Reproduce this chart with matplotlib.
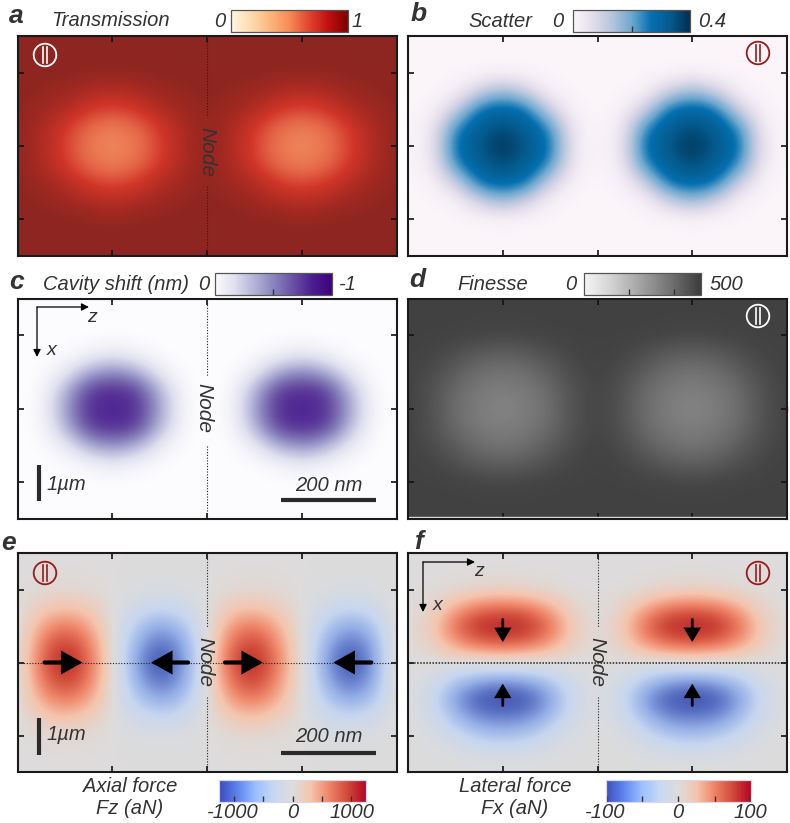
#!/usr/bin/env python3
"""Optical force maps of a particle in a cavity: six panels read off the figure."""

import matplotlib
matplotlib.use('Agg')
import matplotlib.pyplot as plt
from matplotlib.colors import LinearSegmentedColormap, Normalize
from matplotlib.cm import ScalarMappable
from matplotlib.patches import Circle

plt.rcParams['font.family'] = ['Liberation Sans', 'DejaVu Sans']

# grid points: z every 50 nm from -400 to 400, x every 0.5 um from -3 to 3
transmission = [
    [97, 97, 97, 97, 97, 97, 97, 97, 97, 97, 97, 97, 97, 97, 97, 97, 97],
    [97, 97, 97, 97, 97, 97, 97, 97, 97, 97, 97, 97, 97, 97, 97, 97, 97],
    [97, 97, 97, 96, 95, 96, 97, 97, 97, 97, 97, 96, 95, 96, 97, 97, 97],
    [97, 95, 92, 86, 84, 86, 92, 95, 97, 95, 92, 86, 84, 86, 92, 95, 97],
    [97, 91, 85, 75, 70, 75, 85, 91, 96, 91, 85, 75, 70, 75, 85, 91, 97],
    [96, 87, 74, 60, 53, 60, 74, 87, 96, 87, 74, 60, 53, 60, 74, 87, 96],
    [96, 86, 72, 55, 50, 55, 72, 86, 96, 86, 72, 55, 50, 55, 72, 86, 96],
    [96, 87, 74, 60, 53, 60, 74, 87, 96, 87, 74, 60, 53, 60, 74, 87, 96],
    [97, 91, 84, 74, 69, 74, 84, 91, 96, 91, 84, 74, 69, 74, 84, 91, 97],
    [97, 95, 91, 85, 82, 85, 91, 95, 97, 95, 91, 85, 82, 85, 91, 95, 97],
    [97, 97, 97, 96, 94, 96, 97, 97, 97, 97, 97, 96, 94, 96, 97, 97, 97],
    [97, 97, 97, 97, 96, 97, 97, 97, 97, 97, 97, 97, 96, 97, 97, 97, 97],
    [97, 97, 97, 97, 97, 97, 97, 97, 97, 97, 97, 97, 97, 97, 97, 97, 97],
]
scatter = [
    [0, 0, 0, 0, 0, 0, 0, 0, 0, 0, 0, 0, 0, 0, 0, 0, 0],
    [0, 0, 0, 0, 0, 0, 0, 0, 0, 0, 0, 0, 0, 0, 0, 0, 0],
    [0, 0, 0, 0, 2, 0, 0, 0, 0, 0, 0, 0, 2, 0, 0, 0, 0],
    [0, 0, 2, 25, 42, 25, 2, 0, 0, 0, 2, 25, 42, 25, 2, 0, 0],
    [0, 1, 25, 68, 74, 68, 25, 1, 0, 1, 25, 68, 74, 68, 25, 1, 0],
    [0, 6, 60, 80, 90, 80, 60, 6, 0, 6, 60, 80, 90, 80, 60, 6, 0],
    [0, 8, 70, 84, 100, 84, 70, 8, 0, 8, 70, 84, 100, 84, 70, 8, 0],
    [0, 6, 60, 80, 90, 80, 60, 6, 0, 6, 60, 80, 90, 80, 60, 6, 0],
    [0, 1, 25, 68, 74, 68, 25, 1, 0, 1, 25, 68, 74, 68, 25, 1, 0],
    [0, 0, 2, 25, 42, 25, 2, 0, 0, 0, 2, 25, 42, 25, 2, 0, 0],
    [0, 0, 0, 0, 2, 0, 0, 0, 0, 0, 0, 0, 2, 0, 0, 0, 0],
    [0, 0, 0, 0, 0, 0, 0, 0, 0, 0, 0, 0, 0, 0, 0, 0, 0],
    [0, 0, 0, 0, 0, 0, 0, 0, 0, 0, 0, 0, 0, 0, 0, 0, 0],
]
cavity_shift = [
    [0, 0, 0, 0, 0, 0, 0, 0, 0, 0, 0, 0, 0, 0, 0, 0, 0],
    [0, 0, 0, 0, 0, 0, 0, 0, 0, 0, 0, 0, 0, 0, 0, 0, 0],
    [0, 0, 0, 0, 0, 0, 0, 0, 0, 0, 0, 0, 0, 0, 0, 0, 0],
    [0, 0, 0, 5, 11, 5, 0, 0, 0, 0, 0, 5, 11, 5, 0, 0, 0],
    [0, 0, 10, 36, 48, 36, 10, 0, 0, 0, 10, 36, 48, 36, 10, 0, 0],
    [0, 1, 32, 74, 80, 74, 32, 1, 0, 1, 32, 74, 80, 74, 32, 1, 0],
    [0, 2, 40, 80, 80, 80, 40, 2, 0, 2, 40, 80, 80, 80, 40, 2, 0],
    [0, 1, 32, 74, 80, 74, 32, 1, 0, 1, 32, 74, 80, 74, 32, 1, 0],
    [0, 0, 10, 36, 48, 36, 10, 0, 0, 0, 10, 36, 48, 36, 10, 0, 0],
    [0, 0, 0, 5, 11, 5, 0, 0, 0, 0, 0, 5, 11, 5, 0, 0, 0],
    [0, 0, 0, 0, 0, 0, 0, 0, 0, 0, 0, 0, 0, 0, 0, 0, 0],
    [0, 0, 0, 0, 0, 0, 0, 0, 0, 0, 0, 0, 0, 0, 0, 0, 0],
    [0, 0, 0, 0, 0, 0, 0, 0, 0, 0, 0, 0, 0, 0, 0, 0, 0],
]
finesse = [
    [97, 97, 97, 97, 97, 97, 97, 97, 97, 97, 97, 97, 97, 97, 97, 97, 97],
    [97, 97, 97, 97, 97, 97, 97, 97, 97, 97, 97, 97, 97, 97, 97, 97, 97],
    [97, 97, 97, 96, 95, 96, 97, 97, 97, 97, 97, 96, 95, 96, 97, 97, 97],
    [97, 96, 91, 85, 83, 85, 91, 96, 97, 96, 91, 85, 83, 85, 91, 96, 97],
    [97, 93, 84, 76, 73, 76, 84, 93, 97, 93, 84, 76, 73, 76, 84, 93, 97],
    [97, 90, 78, 70, 67, 70, 78, 90, 96, 90, 78, 70, 67, 70, 78, 90, 97],
    [97, 90, 76, 68, 64, 68, 76, 90, 96, 90, 76, 68, 64, 68, 76, 90, 97],
    [97, 90, 78, 70, 67, 70, 78, 90, 96, 90, 78, 70, 67, 70, 78, 90, 97],
    [97, 93, 84, 76, 73, 76, 84, 93, 97, 93, 84, 76, 73, 76, 84, 93, 97],
    [97, 96, 91, 85, 83, 85, 91, 96, 97, 96, 91, 85, 83, 85, 91, 96, 97],
    [97, 97, 97, 96, 95, 96, 97, 97, 97, 97, 97, 96, 95, 96, 97, 97, 97],
    [97, 97, 97, 97, 97, 97, 97, 97, 97, 97, 97, 97, 97, 97, 97, 97, 97],
    [97, 97, 97, 97, 97, 97, 97, 97, 97, 97, 97, 97, 97, 97, 97, 97, 97],
]
axial_force = [
    [0, 0, 0, 0, 0, 0, 0, 0, 0, 0, 0, 0, 0, 0, 0, 0, 0],
    [0, 0, 1, 1, 0, 0, -1, -1, 0, 1, 1, 1, 0, 0, -1, -1, 0],
    [0, 3, 5, 3, 0, -3, -5, -3, 0, 3, 5, 3, 0, -3, -5, -3, 1],
    [-1, 18, 26, 18, 0, -15, -24, -17, 0, 20, 26, 15, 0, -15, -24, -17, 3],
    [-2, 38, 56, 38, 1, -33, -54, -38, 0, 42, 56, 32, 1, -33, -54, -38, 5],
    [-3, 55, 84, 55, 2, -48, -80, -54, 0, 60, 82, 45, 2, -48, -80, -54, 8],
    [-3, 62, 100, 62, 2, -55, -98, -60, 0, 70, 98, 50, 3, -55, -98, -60, 10],
    [-3, 55, 84, 55, 2, -48, -80, -54, 0, 60, 82, 45, 2, -48, -80, -54, 8],
    [-2, 38, 56, 38, 1, -33, -54, -38, 0, 42, 56, 32, 1, -33, -54, -38, 5],
    [-1, 18, 26, 18, 0, -15, -24, -17, 0, 20, 26, 15, 0, -15, -24, -17, 3],
    [0, 3, 5, 3, 0, -3, -5, -3, 0, 3, 5, 3, 0, -3, -5, -3, 1],
    [0, 0, 1, 1, 0, 0, -1, -1, 0, 1, 1, 1, 0, 0, -1, -1, 0],
    [0, 0, 0, 0, 0, 0, 0, 0, 0, 0, 0, 0, 0, 0, 0, 0, 0],
]
lateral_force = [
    [0, 0, 0, 0, 0, 0, 0, 0, 0, 0, 0, 0, 0, 0, 0, 0, 0],
    [0, 0, 0, 0, 1, 0, 0, 0, 0, 0, 0, 0, 1, 0, 0, 0, 0],
    [0, 1, 4, 9, 11, 9, 4, 1, 0, 1, 4, 9, 11, 9, 4, 1, 0],
    [0, 8, 35, 55, 60, 55, 35, 8, 0, 8, 35, 55, 60, 55, 35, 8, 0],
    [1, 18, 60, 92, 100, 92, 60, 18, 0, 18, 60, 92, 100, 92, 60, 18, 1],
    [0, 12, 40, 58, 64, 58, 40, 12, 0, 12, 40, 58, 64, 58, 40, 12, 0],
    [0, 0, 0, 0, 0, 0, 0, 0, 0, 0, 0, 0, 0, 0, 0, 0, 0],
    [0, -10, -35, -52, -58, -52, -35, -10, 0, -10, -35, -52, -58, -52, -35, -10, 0],
    [-1, -18, -58, -88, -98, -88, -58, -18, 0, -18, -58, -88, -98, -88, -58, -18, -1],
    [0, -12, -42, -65, -70, -65, -42, -12, 0, -12, -42, -65, -70, -65, -42, -12, 0],
    [0, -4, -18, -34, -40, -34, -18, -4, 0, -4, -18, -34, -40, -34, -18, -4, 0],
    [0, -1, -4, -8, -10, -8, -4, -1, 0, -1, -4, -8, -10, -8, -4, -1, 0],
    [0, 0, 0, 0, 0, 0, 0, 0, 0, 0, 0, 0, 0, 0, 0, 0, 0],
]

z_ticks = [-200, 0, 200]
x_ticks = [-2, 0, 2]
GRID_EXTENT = [-425, 425, 3.25, -3.25]

TEXT = '#333333'
DARK_RED = '#9a1a1a'

trans_bar = LinearSegmentedColormap.from_list(
    'trans_bar', ['#fff4e2', '#fddcae', '#fbb67c', '#f68a57', '#e0452f', '#c01010', '#7f0000'])
trans_img = LinearSegmentedColormap.from_list(
    'trans_img', [(0, '#fff4e2'), (.3, '#fbb67c'), (.5, '#f08a5a'), (.62, '#e56548'),
                  (.75, '#d03528'), (.88, '#a82a22'), (1, '#852420')])
scatter_cmap = LinearSegmentedColormap.from_list(
    'scatter', ['#fbf5fa', '#e3ddeb', '#b5c5dd', '#6ea8cf', '#0570b0', '#045a8d', '#022f50'])
cavity_cmap = LinearSegmentedColormap.from_list(
    'cavity', ['#fcfbfd', '#e0e0ef', '#b5b4d8', '#8a84bd', '#6a51a3', '#4a1d8f', '#3f007d'])
gray_cmap = LinearSegmentedColormap.from_list(
    'gray', ['#f5f5f5', '#d0d0d0', '#a0a0a0', '#707070', '#3c3c3c'])
force_cmap = LinearSegmentedColormap.from_list(
    'force', ['#3b4cc0', '#5f85ee', '#9cc0ff', '#c8d8f2', '#dddcdc',
              '#f5c4ac', '#ee8468', '#d04a3a', '#b40426'])
force_img = LinearSegmentedColormap.from_list(
    'force_img', ['#34409f', '#5a72c4', '#94aee6', '#c6d6f0', '#dddcdc',
                  '#f5c4ac', '#ee8468', '#d04a3a', '#b01a2c'])

W, H = 790, 823
fig = plt.figure(figsize=(W / 100, H / 100), dpi=100)


def px_axes(x0, y0, x1, y1):
    return fig.add_axes([x0 / W, 1 - y1 / H, (x1 - x0) / W, (y1 - y0) / H])


def panel(box, values, cmap, vmin, vmax):
    ax = px_axes(*box)
    ax.imshow(values, cmap=cmap, vmin=vmin, vmax=vmax, extent=GRID_EXTENT,
              aspect='auto', interpolation='bicubic')
    ax.set_xlim(-400, 400)
    ax.set_ylim(3, -3)
    ax.set_xticks(z_ticks)
    ax.set_yticks(x_ticks)
    ax.tick_params(direction='in', length=4, width=1.2, top=True, right=True,
                   labelbottom=False, labelleft=False, color='#111111')
    for s in ax.spines.values():
        s.set_linewidth(1.5)
        s.set_color('#1a1a1a')
    return ax


def cbar(box, cmap, ticks=(), edge='#555555'):
    cax = px_axes(*box)
    cb = fig.colorbar(ScalarMappable(Normalize(0, 1), cmap), cax=cax, orientation='horizontal')
    cb.set_ticks(list(ticks))
    cax.tick_params(direction='in', length=4, width=1, labelbottom=False, color='#333333')
    cb.outline.set_linewidth(0.9)
    cb.outline.set_edgecolor(edge)
    return cb


def node_line(ax, gap_top, gap_bottom):
    ax.plot([0, 0], [-3, gap_top], color='#222222', lw=0.8, ls=(0, (1, 1.5)))
    ax.plot([0, 0], [gap_bottom, 3], color='#222222', lw=0.8, ls=(0, (1, 1.5)))


def arrow(ax, start, end, lw, style, scale):
    ax.annotate('', xy=end, xytext=start,
                arrowprops=dict(arrowstyle=style, color='black', lw=lw, mutation_scale=scale,
                                shrinkA=0, shrinkB=0, joinstyle='miter'))


ax_a = panel((17.5, 36, 396.5, 256), transmission, trans_img, 0, 100)
ax_b = panel((408, 36, 787, 256), scatter, scatter_cmap, 0, 100)
ax_c = panel((17.5, 298.5, 396.5, 519), cavity_shift, cavity_cmap, 0, 100)
ax_d = panel((408, 298.5, 787, 519), finesse, gray_cmap, 0, 100)
ax_e = panel((17.5, 553, 396.5, 772), axial_force, force_img, -100, 100)
ax_f = panel((408, 553, 787, 772), lateral_force, force_img, -100, 100)

cbar((231, 9.5, 348, 32), trans_bar)
cbar((573, 10, 690, 32), scatter_cmap, [0.5])
cbar((214.5, 273, 332, 295), cavity_cmap, [0.5])
cbar((583.5, 273, 701, 295), gray_cmap, [0.39, 0.77])
cbar((219.5, 779.5, 366, 802), force_cmap, [0.1, 0.3, 0.5, 0.7, 0.9], edge='#d8d8e8')
cbar((605.5, 779.5, 751, 802), force_cmap, [0.01, 0.25, 0.5, 0.75, 0.99], edge='#d8d8e8')

node_line(ax_a, -0.8, 1.1)
node_line(ax_c, -0.9, 1.0)
node_line(ax_e, -0.95, 0.95)
node_line(ax_f, -0.95, 0.95)
ax_e.axhline(0, color='#222222', lw=0.8, ls=(0, (1, 1.5)))
ax_f.axhline(0, color='#222222', lw=1.1, ls=(0, (1, 1)))

# force arrows
for start, end in [(-343, -263), (-40, -118), (38, 118), (347, 267)]:
    arrow(ax_e, (start, 0), (end, 0), 3, '-|>,head_length=0.32,head_width=0.18', 34)
for z in z_ticks[::2]:
    arrow(ax_f, (z, -1.18), (z, -0.56), 2, '-|>,head_length=0.3,head_width=0.18', 25)
    arrow(ax_f, (z, 1.18), (z, 0.58), 2, '-|>,head_length=0.3,head_width=0.18', 25)

# little red marks on panel d and the white line near its bottom edge
ax_d.plot([-400, 400], [0, 0], ls='none', marker='|', color='#c03030', ms=5, mew=1, clip_on=False)
ax_d.axhline(2.95, color='#dddddd', lw=1)

# overlay in figure pixels for labels, scale bars and symbols
ov = fig.add_axes([0, 0, 1, 1], zorder=10)
ov.set_xlim(0, W)
ov.set_ylim(H, 0)
ov.axis('off')


def label(x, y, s, size=14.5, ha='center', **kw):
    kw.setdefault('style', 'italic')
    kw.setdefault('color', TEXT)
    ov.text(x, y, s, fontsize=size, ha=ha, va='center', **kw)


def parallel_mark(x, y, color):
    ov.add_patch(Circle((x, y), 11.3, fill=False, ec=color, lw=1.3))
    ov.plot([x - 2, x - 2], [y - 8, y + 8], color=color, lw=1.2)
    ov.plot([x + 2, x + 2], [y - 8, y + 8], color=color, lw=1.2)


def axes_glyph(x, y, x_end, y_end):
    ov.annotate('', xy=(x_end, y), xytext=(x, y),
                arrowprops=dict(arrowstyle='-|>', color='black', lw=0.9, mutation_scale=11,
                                shrinkA=0, shrinkB=0))
    ov.annotate('', xy=(x, y_end), xytext=(x, y),
                arrowprops=dict(arrowstyle='-|>', color='black', lw=0.9, mutation_scale=11,
                                shrinkA=0, shrinkB=0))


for x, y, s in [(16, 16, 'a'), (419, 14, 'b'), (16, 282, 'c'),
                (417, 280, 'd'), (9, 543, 'e'), (418, 542, 'f')]:
    label(x, y, s, size=19, weight='bold')

label(51, 20, 'Transmission', ha='left')
label(220, 21, '0')
label(357, 21, '1')
label(468, 21, 'Scatter', ha='left')
label(558, 21, '0')
label(698, 21, '0.4', ha='left')
label(43, 284, 'Cavity shift (nm)', ha='left')
label(204, 284, '0')
label(339, 285, '-1', ha='left')
label(457, 285, 'Finesse', ha='left')
label(571, 285, '0')
label(710, 285, '500', ha='left')
label(130, 787, 'Axial force')
label(130, 809, 'Fz (aN)')
label(233, 813, '-1000')
label(293, 813, '0')
label(352, 813, '1000')
label(515, 787, 'Lateral force')
label(515, 809, 'Fx (aN)')
label(605, 813, '-100')
label(678, 813, '0')
label(750, 813, '100')

for x, y in [(207, 152), (204, 408), (205, 662), (597, 662)]:
    label(x, y, 'Node', size=15, rotation=-90)

parallel_mark(45, 55, 'white')
parallel_mark(758, 53, DARK_RED)
parallel_mark(758, 316, 'white')
parallel_mark(45, 573, DARK_RED)
parallel_mark(758, 573, DARK_RED)

# scale bars
for y0, y1, text_y in [(465, 501, 484), (718, 755, 735)]:
    ov.plot([39, 39], [y0, y1], color='#2a2a2a', lw=3, solid_capstyle='butt')
    label(46, text_y, '1\u00b5m', ha='left')
for y, text_y in [(500, 485), (753, 737)]:
    ov.plot([281, 376], [y, y], color='#2a2a2a', lw=3, solid_capstyle='butt')
    label(329, text_y, '200 nm')

axes_glyph(37, 307, 89, 357)
label(92, 317, 'z', size=14)
label(52, 350, 'x', size=14)
axes_glyph(423, 562, 475, 612)
label(479, 572, 'z', size=14)
label(438, 605, 'x', size=14)

fig.savefig('out.png', dpi=100)
